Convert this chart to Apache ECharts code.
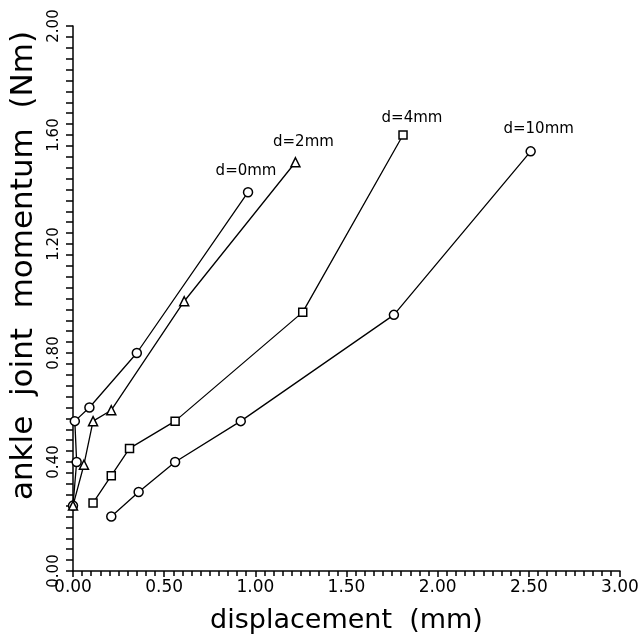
<!DOCTYPE html>
<html>
<head>
<meta charset="utf-8">
<script src="https://cdn.jsdelivr.net/npm/echarts@6/dist/echarts.min.js"></script>
<style>
  html, body { margin: 0; padding: 0; background: #fff; }
  #main { width: 642px; height: 639px; }
</style>
</head>
<body>
<div id="main"></div>
<script>
// values: [displacement (mm), moment (Nm)]
var d0mm = [[0.00, 0.24], [0.02, 0.40], [0.01, 0.55], [0.09, 0.60], [0.35, 0.80], [0.96, 1.39]];
var d2mm = [[0.00, 0.24], [0.06, 0.39], [0.11, 0.55], [0.21, 0.59], [0.61, 0.99], [1.22, 1.50]];
var d4mm = [[0.11, 0.25], [0.21, 0.35], [0.31, 0.45], [0.56, 0.55], [1.26, 0.95], [1.81, 1.60]];
var d10mm = [[0.21, 0.20], [0.36, 0.29], [0.56, 0.40], [0.92, 0.55], [1.76, 0.94], [2.51, 1.54]];

var seriesNames = ['d=0mm', 'd=2mm', 'd=4mm', 'd=10mm'];
var seriesData = [d0mm, d2mm, d4mm, d10mm];
var symbols = ['circle', 'triangle', 'rect', 'circle'];
var labelOffsets = [[-2, -3], [8, -2], [9, 0], [8, -4]];

var font = 'DejaVu Sans';

var chart = echarts.init(document.getElementById('main'));

var series = seriesData.map(function (data, i) {
  var last = data.length - 1;
  return {
    name: seriesNames[i],
    type: 'line',
    data: data,
    symbol: symbols[i],
    symbolSize: i === 2 ? 8 : 9,
    itemStyle: { color: '#fff', borderColor: '#000', borderWidth: 1.5 },
    lineStyle: { color: '#000', width: 1.3 },
    label: {
      show: true,
      position: 'top',
      offset: labelOffsets[i],
      color: '#000',
      fontFamily: font,
      fontSize: 15,
      formatter: function (p) {   // only the end point carries the name
        return p.dataIndex === last ? seriesNames[i] : '';
      }
    },
    emphasis: { disabled: true },
    animation: false
  };
});

var option = {
  backgroundColor: '#fff',
  grid: { left: 73, right: 22, top: 26, bottom: 68, outerBoundsMode: 'none' },
  xAxis: {
    type: 'value',
    min: 0,
    max: 3,
    interval: 0.5,
    name: 'displacement  (mm)',
    nameLocation: 'middle',
    nameGap: 36,
    nameTextStyle: { color: '#000', fontFamily: font, fontSize: 27 },
    axisLine: { show: true, onZero: false, lineStyle: { color: '#000', width: 1.5 } },
    axisTick: { show: true, length: 6, lineStyle: { color: '#000', width: 1.5 } },
    minorTick: { show: true, splitNumber: 10, length: 5, lineStyle: { color: '#000', width: 1.5 } },
    axisLabel: {
      color: '#000',
      fontFamily: font,
      fontSize: 17,
      margin: 8,
      formatter: function (v) { return v.toFixed(2); }
    },
    splitLine: { show: false }
  },
  yAxis: {
    type: 'value',
    min: 0,
    max: 2,
    interval: 0.4,
    name: 'ankle  joint  momentum  (Nm)',
    nameLocation: 'middle',
    nameGap: 33,
    nameRotate: 90,
    nameTextStyle: { color: '#000', fontFamily: font, fontSize: 31, padding: [0, 0, 0, 66] },
    axisLine: { show: true, onZero: false, lineStyle: { color: '#000', width: 1.5 } },
    axisTick: { show: true, length: 7, lineStyle: { color: '#000', width: 1.5 } },
    minorTick: { show: true, splitNumber: 10, length: 7, lineStyle: { color: '#000', width: 1.5 } },
    axisLabel: {
      color: '#000',
      fontFamily: font,
      fontSize: 15,
      rotate: 90,
      margin: 11,
      formatter: function (v) { return v.toFixed(2); }
    },
    splitLine: { show: false }
  },
  series: series
};

chart.setOption(option);
</script>
</body>
</html>
